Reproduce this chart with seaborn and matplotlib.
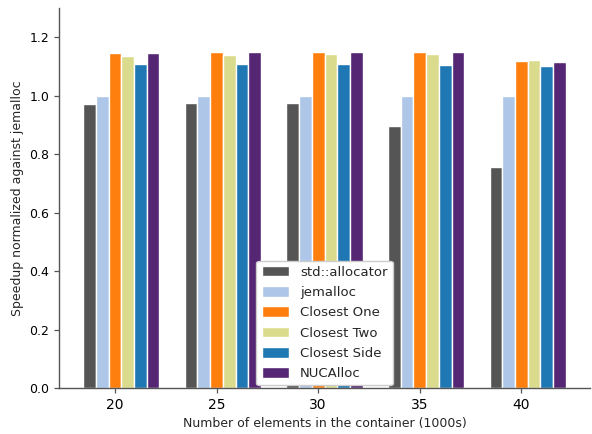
import matplotlib
matplotlib.use("Agg")
import matplotlib.pyplot as plt
import seaborn as sns
import pandas as pd

# Container sizes (thousands of elements)
sizes = ["20", "25", "30", "35", "40"]

# Speedup of each allocator, normalized against jemalloc
std_allocator = [0.971, 0.974, 0.975, 0.896, 0.756]
jemalloc = [1.0, 1.0, 1.0, 1.0, 1.0]
closest_one = [1.145, 1.149, 1.149, 1.149, 1.118]
closest_two = [1.135, 1.138, 1.142, 1.142, 1.121]
closest_side = [1.108, 1.108, 1.108, 1.104, 1.101]
nucalloc = [1.145, 1.149, 1.149, 1.149, 1.115]

series_names = ["std::allocator", "jemalloc", "Closest One",
                "Closest Two", "Closest Side", "NUCAlloc"]
series_values = [std_allocator, jemalloc, closest_one,
                 closest_two, closest_side, nucalloc]
series_colors = ["#555555", "#aec7e8", "#ff7f0e", "#dbdb8d", "#1f77b4", "#552673"]

rows = []
for name, vals in zip(series_names, series_values):
    for size, v in zip(sizes, vals):
        rows.append({"size": size, "allocator": name, "speedup": v})
df = pd.DataFrame(rows)

sns.set_theme(style="ticks")
plt.rcParams["font.family"] = ["DejaVu Sans"]

fig, ax = plt.subplots(figsize=(5.92, 4.34), dpi=100)
fig.subplots_adjust(left=59 / 592, right=590 / 592, top=1 - 8 / 434, bottom=1 - 388 / 434)

sns.barplot(data=df, x="size", y="speedup", hue="allocator",
            hue_order=series_names, order=sizes,
            palette=dict(zip(series_names, series_colors)),
            width=0.75, edgecolor="white", linewidth=1, saturation=1,
            errorbar=None, ax=ax)

# Tick sits under the third bar of each group
bar_w = 0.75 / len(series_names)
tick_pos = [i - 0.375 + 2.5 * bar_w for i in range(len(sizes))]
ax.set_xticks(tick_pos)
ax.set_xticklabels(sizes, fontsize=10)
ax.set_xlim(-0.6125, len(sizes) - 1 + 0.6125)

ax.set_ylim(0, 1.3)
ax.set_yticks([0.0, 0.2, 0.4, 0.6, 0.8, 1.0, 1.2])
ax.set_yticklabels(["0.0", "0.2", "0.4", "0.6", "0.8", "1.0", "1.2"], fontsize=9)

ax.set_xlabel("Number of elements in the container (1000s)", fontsize=9)
ax.set_ylabel("Speedup normalized against jemalloc", fontsize=9)

ax.tick_params(axis="both", color="#555555", labelcolor="black",
               length=3.5, width=0.9)
for s in ["left", "bottom"]:
    ax.spines[s].set_color("#555555")
    ax.spines[s].set_linewidth(1.0)
sns.despine(ax=ax)

ax.legend(loc="lower center", fontsize=9.5, frameon=True, fancybox=True,
          framealpha=1.0, edgecolor="#cccccc", borderaxespad=0.2,
          handlelength=2.1, handleheight=0.85, labelspacing=0.55)

fig.savefig("out.png", dpi=100)
